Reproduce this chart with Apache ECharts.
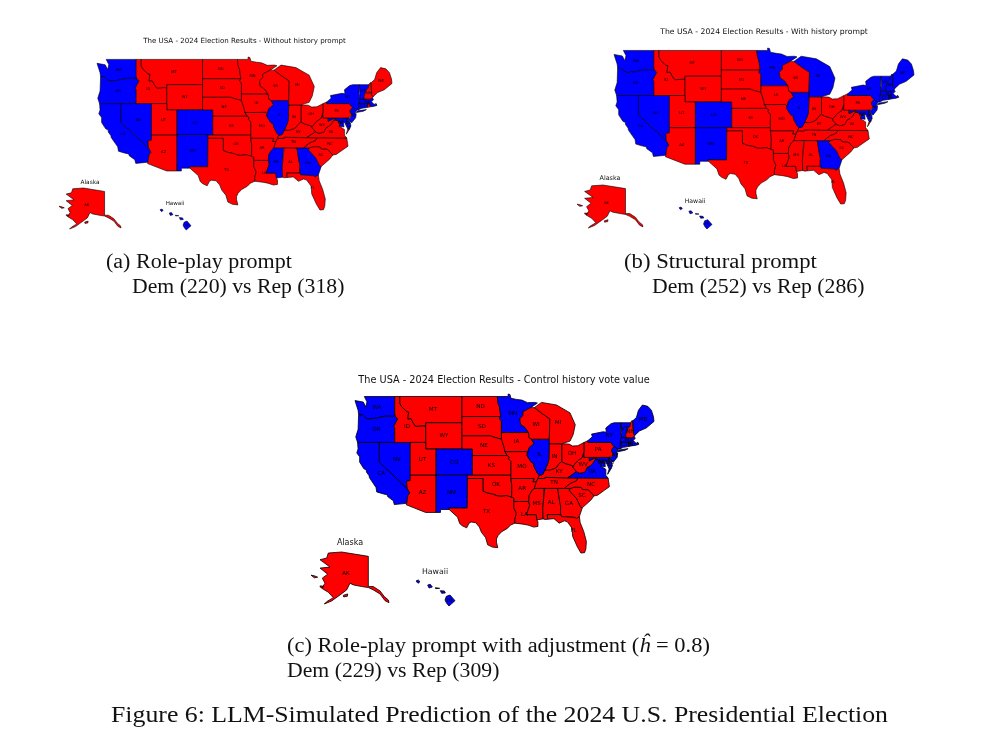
<!DOCTYPE html>
<html><head><meta charset="utf-8">
<style>html,body{margin:0;padding:0;background:#fff}#c,#t{position:absolute;left:0;top:0;width:984px;height:746px}#c{filter:blur(.45px)}</style>
<script src="https://cdn.jsdelivr.net/npm/echarts@6/dist/echarts.min.js"></script>
</head><body><div id="c"></div><div id="t"></div>
<script>
// ---- values: which states each panel shows as Democratic
const demA = ['WA','OR','CA','NV','CO','NM','IL','MS','GA','NY','VT','MA','CT','NJ','DE','MD','DC','HI'];
const demB = ['WA','OR','CA','NV','CO','NM','MN','MI','IL','GA','NY','VT','NH','ME','MA','RI','CT','NJ','DE','MD','DC','HI'];
const demC = ['WA','OR','CA','NV','CO','NM','MN','IL','VA','NY','VT','ME','MA','RI','CT','NJ','DE','MD','DC','HI'];
const panelTitles = ['The USA - 2024 Election Results - Without history prompt','The USA - 2024 Election Results - With history prompt','The USA - 2024 Election Results - Control history vote value'];
const captionLines = [
  ['(a) Role-play prompt','Dem (220) vs Rep (318)'],
  ['(b) Structural prompt','Dem (252) vs Rep (286)'],
  ['(c) Role-play prompt with adjustment ({i|ĥ} = 0.8)','Dem (229) vs Rep (309)']
];
const figureCaption = 'Figure 6: LLM-Simulated Prediction of the 2024 U.S. Presidential Election';
const DEM = '#0000ff', REP = '#ff0000';

// ---- simplified state outlines (lon,lat), used only as the map's base geometry
const shapes = {
WA:'-122.9,49 -117.03,49 -117.04,46.42 -116.92,45.99 -118.98,46 -119.3,45.93 -120.5,45.7 -121.2,45.65 -122.3,45.55 -122.8,45.8 -123.2,46.15 -124,46.27 -124.1,46.9 -124.7,48.38 -123.1,48.15 -122.6,47.4 -122.4,48.2',
OR:'-124,46.27 -123.2,46.15 -122.8,45.8 -122.3,45.55 -121.2,45.65 -120.5,45.7 -119.3,45.93 -118.98,46 -116.92,45.99 -116.46,45.6 -116.85,45 -117.2,44.45 -117.03,44.2 -117.03,42 -120,42 -124.2,42 -124.55,42.84 -124.1,44',
CA:'-124.2,42 -120,42 -120,39 -114.63,35 -114.13,34.3 -114.5,33.9 -114.72,32.72 -117.12,32.53 -117.3,33.1 -118.4,33.75 -118.5,34.03 -119.2,34.15 -120.5,34.45 -120.65,35.15 -121.9,36.6 -122,36.95 -122.5,37.5 -122.5,37.8 -123,38 -123.8,39 -123.8,39.8 -124.35,40.4 -124.1,41',
NV:'-120,42 -114.04,42 -114.04,36.2 -114.74,36.1 -114.63,35 -120,39',
ID:'-117.03,49 -116.05,49 -116.05,48 -115.7,47.45 -114.7,46.7 -114.35,46.65 -114.5,45.56 -113.9,45.65 -113.45,44.95 -113,44.45 -111.5,44.55 -111.05,44.48 -111.05,42 -117.03,42 -117.03,44.2 -117.2,44.45 -116.85,45 -116.46,45.6 -116.92,45.99 -117.04,46.42',
MT:'-116.05,49 -104.05,49 -104.05,45 -111.05,45 -111.05,44.48 -111.5,44.55 -113,44.45 -113.45,44.95 -113.9,45.65 -114.5,45.56 -114.35,46.65 -114.7,46.7 -115.7,47.45 -116.05,48',
WY:'-111.05,45 -104.05,45 -104.05,41 -111.05,41',
UT:'-114.04,42 -111.05,42 -111.05,41 -109.05,41 -109.05,37 -114.04,37',
CO:'-109.05,41 -102.05,41 -102.05,37 -109.05,37',
AZ:'-114.04,37 -109.05,37 -109.05,31.33 -111.07,31.33 -114.81,32.5 -114.72,32.72 -114.5,33.9 -114.13,34.3 -114.63,35 -114.74,36.1 -114.04,36.2',
NM:'-109.05,37 -103,37 -103.04,32 -106.62,32 -106.53,31.78 -108.2,31.78 -108.2,31.33 -109.05,31.33',
ND:'-104.05,49 -97.23,49 -97.1,48 -96.85,47.5 -96.56,45.94 -104.05,45.94',
SD:'-104.05,45.94 -96.56,45.94 -96.85,45.6 -96.45,45.3 -96.45,43.5 -96.44,42.49 -97.9,42.8 -98.5,43 -104.05,43',
NE:'-104.05,43 -98.5,43 -97.9,42.8 -96.44,42.49 -96.1,41.7 -95.85,41 -95.77,40.58 -95.31,40 -102.05,40 -102.05,41 -104.05,41',
KS:'-102.05,40 -95.31,40 -94.9,39.75 -95.1,39.5 -94.61,39.11 -94.62,37 -102.05,37',
OK:'-103,37 -94.62,37 -94.62,36.5 -94.43,35.4 -94.48,33.64 -95.5,33.9 -96.5,33.8 -97.2,33.85 -98,34.1 -99.2,34.3 -100,34.56 -100,36.5 -103,36.5',
TX:'-103,36.5 -100,36.5 -100,34.56 -99.2,34.3 -98,34.1 -97.2,33.85 -96.5,33.8 -95.5,33.9 -94.48,33.64 -94.04,33.55 -94.04,33 -94.04,32 -93.55,31.2 -93.85,30.3 -93.84,29.7 -94.7,29.4 -95.3,28.9 -96.4,28.4 -97.1,27.8 -97.4,27.3 -97.4,26.8 -97.15,25.96 -98.2,26.05 -99.1,26.4 -99.5,27.5 -100.3,28.3 -100.7,29.1 -101.4,29.77 -102.3,29.88 -102.7,29.7 -103.15,28.98 -104,29.3 -104.5,29.65 -104.9,30.6 -106.53,31.78 -106.62,32 -103.04,32',
MN:'-97.23,49 -95.15,49 -95.15,49.38 -94.8,49.3 -94.6,48.72 -93.5,48.55 -92.5,48.45 -91.4,48.06 -90,48.1 -89.5,48 -90.8,47.3 -92.1,46.75 -92.3,46.65 -92.29,46.1 -92.9,45.6 -92.75,44.75 -91.9,44.3 -91.22,43.5 -96.45,43.5 -96.45,45.3 -96.85,45.6 -96.56,45.94 -96.85,47.5 -97.1,48',
IA:'-96.45,43.5 -91.22,43.5 -91.1,42.7 -90.64,42.5 -90.15,41.8 -91.1,41.2 -91.42,40.38 -91.73,40.61 -95.77,40.58 -95.85,41 -96.1,41.7 -96.44,42.49',
MO:'-95.77,40.58 -91.73,40.61 -91.42,40.38 -91.5,40 -90.7,39 -90.2,38.8 -90.2,38.4 -89.5,37.3 -89.15,37 -89.4,36.5 -89.7,36 -90.37,36 -90.15,36.5 -94.62,36.5 -94.62,37 -94.61,39.11 -95.1,39.5 -94.9,39.75 -95.31,40',
AR:'-94.62,36.5 -90.15,36.5 -90.37,36 -89.7,36 -90.1,35 -90.6,34.6 -91.1,33.9 -91.17,33 -94.04,33 -94.04,33.55 -94.48,33.64 -94.43,35.4',
LA:'-94.04,33 -91.17,33 -91,32.4 -91.6,31 -89.73,31 -89.6,30.2 -89.4,29.9 -89.4,29.2 -90.2,29.1 -91.3,29.4 -92.3,29.55 -93.84,29.7 -93.85,30.3 -93.55,31.2 -94.04,32',
MS:'-91.17,33 -91.1,33.9 -90.6,34.6 -90.1,35 -88.2,35 -88.1,34.9 -88.47,31.9 -88.4,30.35 -89.6,30.2 -89.73,31 -91.6,31 -91,32.4',
AL:'-88.2,35 -85.6,35 -85.18,32.87 -85,32.3 -85.05,31.55 -85,31 -87.6,31 -87.5,30.3 -88,30.25 -88.4,30.35 -88.47,31.9 -88.1,34.9',
GA:'-85.6,35 -83.1,35 -83.35,34.7 -82.7,34.1 -81.9,33.4 -81.2,32.2 -80.85,32.03 -81.4,30.7 -82.05,30.36 -82.2,30.57 -84.86,30.7 -85,31 -85.05,31.55 -85,32.3 -85.18,32.87',
FL:'-87.6,31 -85,31 -84.86,30.7 -82.2,30.57 -82.05,30.36 -81.4,30.7 -81.25,29.8 -80.55,28.4 -80.05,26.9 -80.15,25.75 -80.4,25.2 -81.1,25.15 -81.8,26.1 -82.7,27.7 -82.8,28.9 -83.7,29.9 -84.3,30.05 -85.3,29.7 -86.3,30.38 -87.5,30.3',
SC:'-83.1,35 -82.3,35.2 -81.05,35.15 -80.8,34.82 -79.67,34.8 -78.55,33.86 -79.2,33.2 -80.85,32.03 -81.2,32.2 -81.9,33.4 -82.7,34.1 -83.35,34.7',
NC:'-84.32,35 -83.1,35 -82.3,35.2 -81.05,35.15 -80.8,34.82 -79.67,34.8 -78.55,33.86 -77.9,33.95 -76.6,34.7 -75.6,35.25 -75.85,36.55 -81.68,36.59 -82,36.13 -83.2,35.75',
TN:'-90.1,35 -89.7,36 -89.4,36.5 -88.07,36.5 -88.07,36.68 -83.68,36.6 -81.68,36.59 -82,36.13 -83.2,35.75 -84.32,35',
KY:'-89.4,36.5 -89.15,37 -88.5,37.1 -88.05,37.8 -87.1,37.8 -86.3,38 -85.75,38.25 -85.4,38.7 -84.8,39.1 -84.2,38.8 -83.3,38.6 -82.6,38.4 -82.6,38.17 -81.97,37.54 -83.68,36.6 -88.07,36.68 -88.07,36.5',
VA:'-83.68,36.6 -81.97,37.54 -81.3,37.3 -80.3,37.5 -79.9,38.2 -79.3,38.42 -78.87,38.77 -78.35,39.4 -77.72,39.32 -77.1,38.9 -77.3,38.4 -76.3,37.9 -76.3,37 -75.85,36.55 -81.68,36.59|-75.95,37.15 -75.25,38.03 -75.65,37.95',
WV:'-82.6,38.17 -82.6,38.4 -81.75,39.2 -80.85,39.7 -80.52,40.64 -80.52,39.72 -79.48,39.72 -79.48,39.2 -78.4,39.62 -77.72,39.32 -78.35,39.4 -78.87,38.77 -79.3,38.42 -79.9,38.2 -80.3,37.5 -81.3,37.3 -81.97,37.54',
MD:'-79.48,39.72 -75.79,39.72 -75.69,38.46 -75.05,38.45 -75.25,38.03 -75.65,37.95 -76.2,38.9 -76.5,39.2 -76.4,38.3 -77.3,38.4 -77.1,38.9 -77.72,39.32 -78.4,39.62 -79.48,39.2',
DC:'-77.12,38.93 -77.04,39 -76.91,38.89 -77.04,38.79',
DE:'-75.79,39.72 -75.41,39.8 -75.55,39.5 -75.1,38.8 -75.05,38.45 -75.69,38.46',
PA:'-80.52,41.98 -79.76,42.27 -79.76,42 -75.35,42 -74.7,41.36 -75.13,40.98 -75.2,40.65 -74.72,40.15 -75.41,39.8 -75.79,39.72 -80.52,39.72',
NJ:'-74.7,41.36 -73.9,40.99 -74.25,40.47 -74,40.4 -74.1,39.75 -74.9,38.95 -75.55,39.5 -74.72,40.15 -75.2,40.65 -75.13,40.98',
NY:'-79.76,42 -79.76,42.27 -78.9,42.85 -79.05,43.27 -76.8,43.63 -76.2,43.55 -76.3,44.2 -75.3,44.85 -74.7,45 -73.35,45 -73.4,43.6 -73.25,43.55 -73.27,42.75 -73.5,42.05 -73.49,41.2 -73.65,41 -73.9,40.99 -74.7,41.36 -75.35,42|-74.05,40.6 -73.75,40.85 -72,41.05 -72.6,40.8 -74,40.58',
CT:'-73.5,42.05 -71.8,42.02 -71.8,41.4 -72.9,41.25 -73.65,41 -73.49,41.2',
RI:'-71.8,42.02 -71.38,42.02 -71.15,41.5 -71.8,41.4',
MA:'-73.27,42.75 -71.3,42.7 -70.82,42.87 -70.6,42.65 -71,42.3 -70.6,41.95 -70,41.8 -70.2,42.07 -69.95,41.7 -70.65,41.55 -71.15,41.5 -71.38,42.02 -71.8,42.02 -73.5,42.05',
VT:'-73.35,45 -71.5,45 -71.6,44.5 -72.05,44.1 -72.45,43.2 -72.46,42.73 -73.27,42.75 -73.25,43.55 -73.4,43.6',
NH:'-71.5,45 -71.3,45.3 -71.08,45.3 -70.98,43.4 -70.72,43.07 -70.82,42.87 -71.3,42.7 -72.46,42.73 -72.45,43.2 -72.05,44.1 -71.6,44.5',
ME:'-71.08,45.3 -70.4,45.8 -70.25,46.2 -70,46.9 -69.23,47.7 -68.2,47.5 -67.5,46.9 -67.1,45.9 -67,45.2 -68.5,44.2 -69.8,43.75 -70.72,43.07 -70.98,43.4',
OH:'-84.8,41.8 -83.4,41.75 -82.7,41.45 -81.7,41.5 -80.52,41.98 -80.52,40.64 -80.85,39.7 -81.75,39.2 -82.6,38.4 -83.3,38.6 -84.2,38.8 -84.8,39.1',
IN:'-87.2,41.8 -84.8,41.8 -84.8,39.1 -85.4,38.7 -85.75,38.25 -86.3,38 -87.1,37.8 -88.05,37.8 -87.55,38.7 -87.3,39.35',
IL:'-90.64,42.5 -87.2,42.5 -87.2,41.8 -87.3,39.35 -87.55,38.7 -88.05,37.8 -88.5,37.1 -89.15,37 -89.5,37.3 -90.2,38.4 -90.2,38.8 -90.7,39 -91.5,40 -91.42,40.38 -91.1,41.2 -90.15,41.8',
WI:'-92.3,46.65 -92.1,46.75 -90.8,47.3 -90.1,47.3 -88.4,46.3 -87.1,45.6 -87.2,42.5 -90.64,42.5 -91.1,42.7 -91.22,43.5 -91.9,44.3 -92.75,44.75 -92.9,45.6 -92.29,46.1',
MI:'-90.1,47.3 -88.7,48.1 -85.8,47.7 -83.2,46.5 -82.2,44.7 -82.6,43.2 -83.2,42.2 -84.8,41.8 -87.2,41.8 -87.2,42.5 -87.1,45.6 -88.4,46.3'
};
const alaskaShape = {AK:'70,55 110,52 190,65 190,155 205,155 225,168 238,185 250,195 252,203 240,197 225,177 205,165 190,158 170,155 145,150 135,145 125,165 105,180 80,198 58,207 65,200 85,188 70,172 50,160 60,145 52,130 68,118 45,100 75,97 45,75 65,70|18,121 28,123 38,127 28,129|45,153 55,154 54,158 46,157|115,181 128,177 127,184 116,186'};
const hawaiiShape = {HI:'333,138 340,135 345,140 339,145|368,150 376,148 382,156 372,159|391,158 404,160 404,163 392,161|406,167 418,168 421,174 410,175|424,184 435,180 450,197 432,213 425,205 420,195'};

function toGeo(shapeTable, flipY){
  return {type:'FeatureCollection',features:Object.keys(shapeTable).map(function(k){
    const polys = shapeTable[k].split('|').map(function(s){
      const ring = s.split(' ').map(function(p){const v=p.split(',').map(Number);return flipY?[v[0],-v[1]]:v;});
      ring.push(ring[0]);
      return [ring];
    });
    return {type:'Feature',properties:{name:k},geometry:{type:'MultiPolygon',coordinates:polys}};
  })};
}
function bounds(table, flipY){
  let a=[1e9,1e9,-1e9,-1e9];
  toGeo(table,flipY).features.forEach(function(f){f.geometry.coordinates.forEach(function(p){p[0].forEach(function(c){
    a[0]=Math.min(a[0],c[0]);a[1]=Math.min(a[1],c[1]);a[2]=Math.max(a[2],c[0]);a[3]=Math.max(a[3],c[1]);});});});
  return a;
}

// ---- layout: pixel boxes [left, top, right, bottom] of each part of each panel
const boxes = [
 {usa:[97,57,392,210], ak:[59,188,121,229], hi:[160,209,191,230], lab:3.7, line:.6},
 {usa:[614,48,914,204], ak:[577,185,643,228], hi:[679,207,712,229], lab:3.8, line:.6},
 {usa:[355,394,654,553], ak:[311,552,389,604], hi:[416,580,455,606], lab:5.6, line:.8}
];
const dems = [demA,demB,demC];
function mapSeries(mapName,table,flip,box,dem,p){
  echarts.registerMap(mapName,toGeo(table,flip));
  const b = bounds(table,flip);
  const w = box[2]-box[0], h = box[3]-box[1];
  return {
    type:'map', map:mapName, roam:false, silent:true, selectedMode:false,
    aspectScale:(w/h)*((b[3]-b[1])/(b[2]-b[0])),
    layoutCenter:[(box[0]+box[2])/2,(box[1]+box[3])/2], layoutSize:Math.max(w,h),
    itemStyle:{borderColor:'#000',borderWidth:p.line,areaColor:REP},
    label:{show:true,fontSize:p.lab,fontFamily:'DejaVu Sans',color:'#000'},
    emphasis:{disabled:true},
    data:Object.keys(table).map(function(k){return {name:k,value:dem.indexOf(k)>=0?1:0,itemStyle:{areaColor:dem.indexOf(k)>=0?DEM:REP}};})
  };
}
const series=[];
boxes.forEach(function(p,i){
  series.push(mapSeries('usa48_'+i,shapes,false,p.usa,dems[i],p),mapSeries('alaska_'+i,alaskaShape,true,p.ak,dems[i],p),mapSeries('hawaii_'+i,hawaiiShape,true,p.hi,dems[i],p));
});
function sans(text,x,y,size){return {type:'text',x:x,y:y,silent:true,style:{text:text,fontFamily:'DejaVu Sans',fontSize:size,fill:'#111',align:'center',verticalAlign:'middle'}};}
function serif(text,x,y,size,sx){return {type:'text',x:x,y:y,scaleX:sx,silent:true,style:{text:text,fontFamily:'Liberation Serif',fontSize:size,fill:'#111',align:'left',verticalAlign:'middle',rich:{i:{fontFamily:'Liberation Serif',fontStyle:'italic',fontSize:size,fill:'#111'}}}};}
const mapTexts=[
  sans(panelTitles[0],244.5,41,7.08), sans(panelTitles[1],764,32,7.7), sans(panelTitles[2],504,380,9.73),
  sans('Alaska',90,182,5.8), sans('Hawaii',175,204,5.6),
  sans('Alaska',610,178,6.4), sans('Hawaii',695,201,6.2),
  sans('Alaska',350,543,8), sans('Hawaii',435,572,7.8)
];
const captionTexts=[
  serif(captionLines[0][0],106,262.5,20.5,1.074), serif(captionLines[0][1],132,287.5,20.5,1.06),
  serif(captionLines[1][0],624,262.5,20.5,1.107), serif(captionLines[1][1],652,287.5,20.5,1.06),
  serif(captionLines[2][0],287,646.5,20.5,1.095), serif(captionLines[2][1],287,671.5,20.5,1.06),
  serif(figureCaption,111,716.5,22.5,1.146)
];
echarts.init(document.getElementById('c'),null,{renderer:'canvas'}).setOption({animation:false,backgroundColor:'#fff',series:series,graphic:mapTexts});
echarts.init(document.getElementById('t'),null,{renderer:'canvas'}).setOption({animation:false,graphic:captionTexts});
</script></body></html>
